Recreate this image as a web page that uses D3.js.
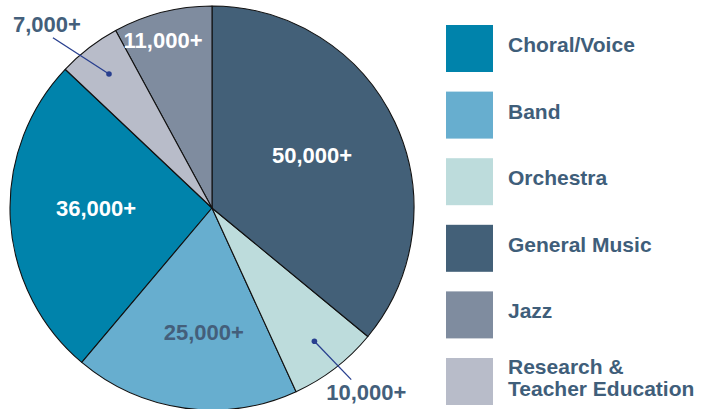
<!DOCTYPE html>
<html>
<head>
<meta charset="utf-8">
<script src="https://cdn.jsdelivr.net/npm/d3@7"></script>
<style>
  body { margin: 0; background: #fff; }
  svg text { font-family: "Liberation Sans", Arial, sans-serif; font-weight: bold; }
</style>
</head>
<body>
<svg id="chart"></svg>
<script>
// categories in legend order
const categories = ["Choral/Voice", "Band", "Orchestra", "General Music", "Jazz", "Research & Teacher Education"];
const values = [36000, 25000, 10000, 50000, 11000, 7000];
const colors = ["#0083ab", "#67aecf", "#bddcdc", "#436078", "#7f8c9f", "#b8bcc9"];
// clockwise order of slices starting at 12 o'clock
const pieOrder = ["General Music", "Orchestra", "Band", "Choral/Voice", "Research & Teacher Education", "Jazz"];

const width = 715, height = 409;
const cx = 212, cy = 208, radius = 202;
const darkText = "#445f7b";
const leaderColor = "#283f8f";

const data = categories.map((c, i) => ({ name: c, value: values[i], color: colors[i] }));

// label placement per slice (radius, angle offset in degrees, style)
const labelCfg = {
  "General Music": { r: 113, fill: "#fff", da: -2.4 },
  "Choral/Voice": { r: 116, fill: "#fff", da: 3.2 },
  "Band": { r: 124, fill: darkText, da: -4 },
  "Jazz": { r: 175, fill: "#fff", da: -2 },
  "Orchestra": { dot: 168, end: 221, endDa: -1.5, dx: 15, dy: 20, fill: darkText },
  "Research & Teacher Education": { dot: 169, end: 233, endDa: -5.5, dx: -6, dy: -6, fill: darkText }
};

const svg = d3.select("#chart").attr("width", width).attr("height", height);
const g = svg.append("g").attr("transform", `translate(${cx},${cy})`);

const pie = d3.pie()
  .value(d => d.value)
  .sort((a, b) => pieOrder.indexOf(a.name) - pieOrder.indexOf(b.name));

const arc = d3.arc().innerRadius(0).outerRadius(radius);
const arcs = pie(data);

g.selectAll("path.slice")
  .data(arcs)
  .enter().append("path")
  .attr("class", "slice")
  .attr("d", arc)
  .attr("fill", d => d.data.color)
  .attr("stroke", "#111")
  .attr("stroke-width", 1.1)
  .attr("stroke-linejoin", "round");

const fmt = d3.format(",");
const rad = deg => deg * Math.PI / 180;
function polar(r, a) { return [r * Math.sin(a), -r * Math.cos(a)]; }

arcs.forEach(d => {
  const cfg = labelCfg[d.data.name];
  const mid = (d.startAngle + d.endAngle) / 2;
  const label = fmt(d.data.value) + "+";
  if (cfg.dot) {
    const p0 = polar(cfg.dot, mid);
    const p1 = polar(cfg.end, mid + rad(cfg.endDa));
    g.append("line")
      .attr("x1", p0[0]).attr("y1", p0[1])
      .attr("x2", p1[0]).attr("y2", p1[1])
      .attr("stroke", leaderColor).attr("stroke-width", 1.3);
    g.append("circle")
      .attr("cx", p0[0]).attr("cy", p0[1]).attr("r", 2.8)
      .attr("fill", leaderColor);
    g.append("text")
      .attr("x", p1[0] + cfg.dx).attr("y", p1[1] + cfg.dy)
      .attr("text-anchor", "middle")
      .attr("font-size", 22)
      .attr("fill", cfg.fill)
      .text(label);
  } else {
    const p = polar(cfg.r, mid + rad(cfg.da || 0));
    g.append("text")
      .attr("x", p[0]).attr("y", p[1])
      .attr("dy", "0.36em")
      .attr("text-anchor", "middle")
      .attr("font-size", 22)
      .attr("fill", cfg.fill)
      .text(label);
  }
});

// legend
const legend = svg.append("g").attr("transform", "translate(446,25)");
const item = legend.selectAll("g.item")
  .data(data)
  .enter().append("g")
  .attr("class", "item")
  .attr("transform", (d, i) => `translate(0,${i * 66.6})`);

item.append("rect")
  .attr("width", 47).attr("height", 47)
  .attr("fill", d => d.color);

item.each(function (d) {
  const lines = d.name === "Research & Teacher Education"
    ? ["Research &", "Teacher Education"] : [d.name];
  const y0 = lines.length > 1 ? 15.5 : 27;
  d3.select(this).selectAll("text")
    .data(lines)
    .enter().append("text")
    .attr("x", 62)
    .attr("y", (w, k) => y0 + k * 22)
    .attr("font-size", 21)
    .attr("fill", "#3f5e7a")
    .text(w => w);
});
</script>
</body>
</html>
